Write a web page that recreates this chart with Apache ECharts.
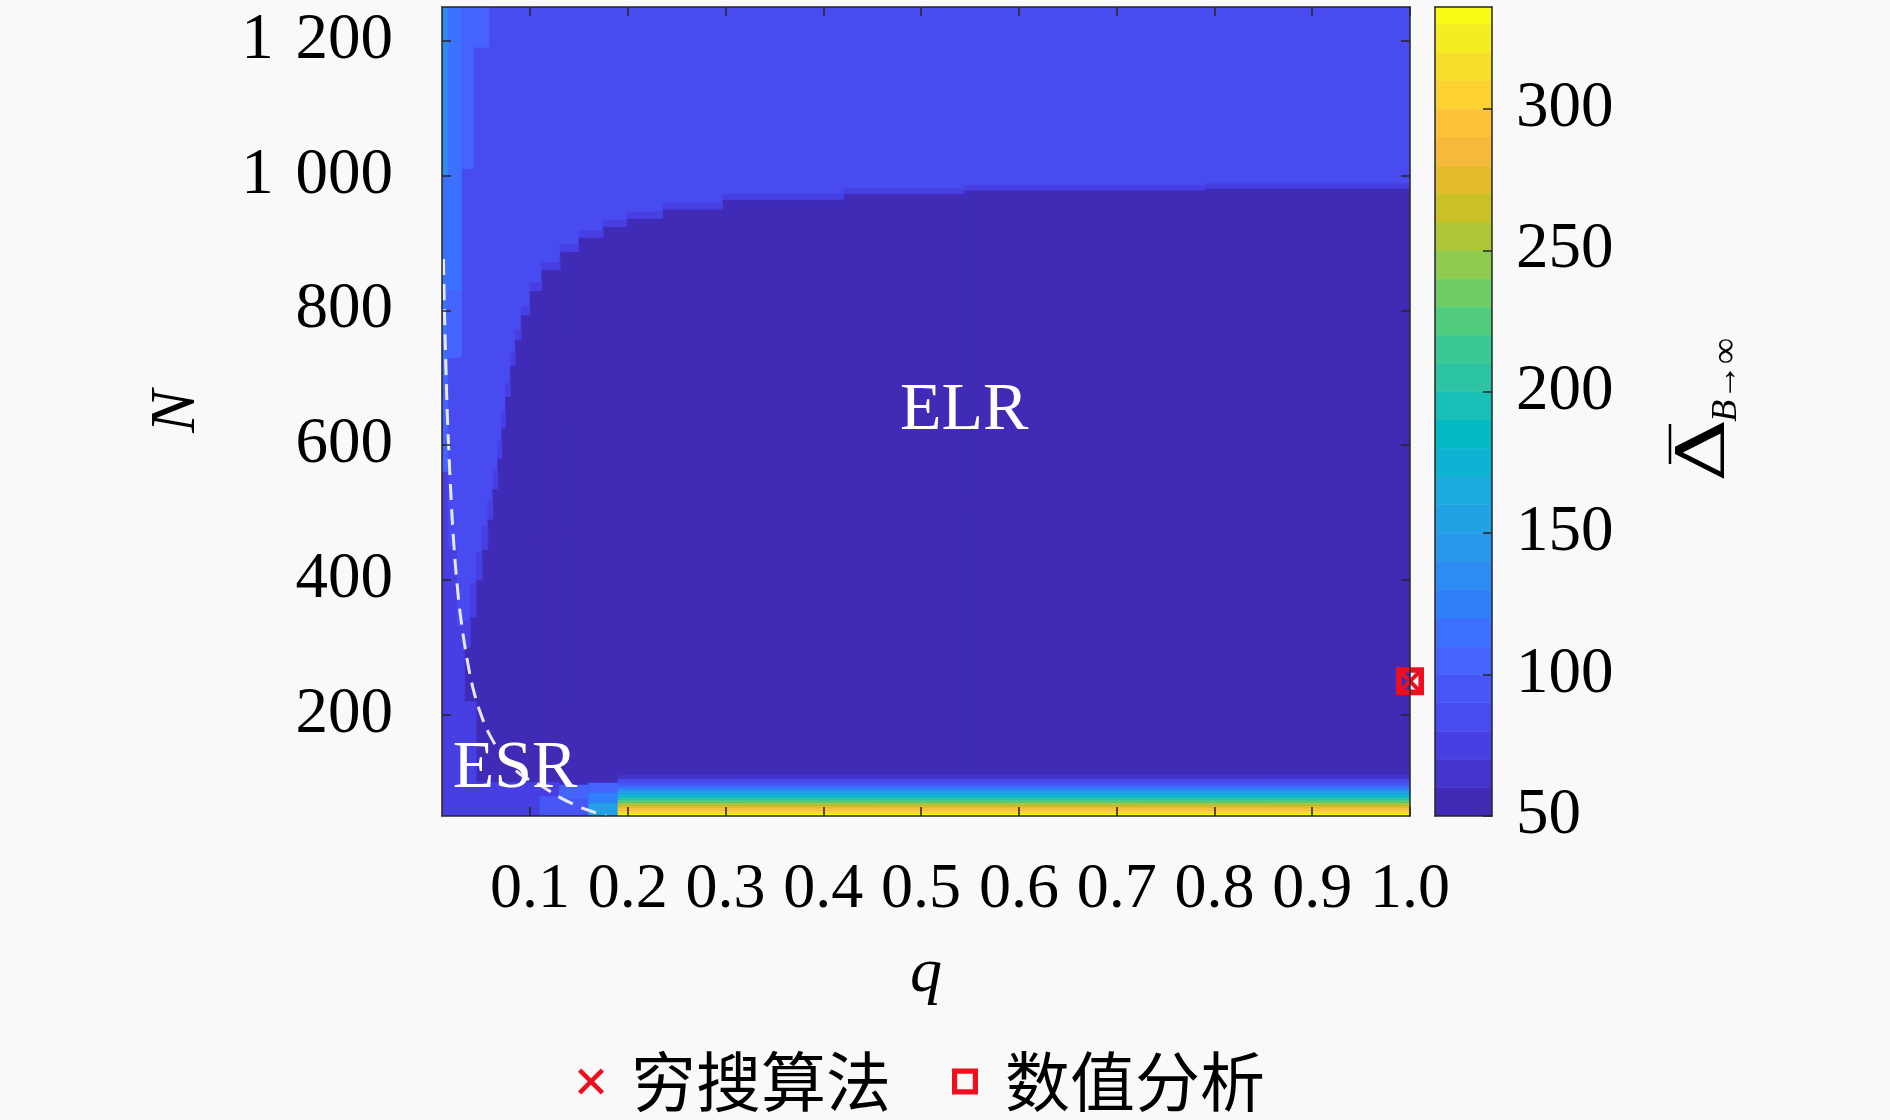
<!DOCTYPE html>
<html><head><meta charset="utf-8">
<script src="https://cdn.jsdelivr.net/npm/echarts@6/dist/echarts.min.js"></script>
<style>html,body{margin:0;padding:0;background:#f9f9f9}#c{width:1890px;height:1120px}</style>
</head><body><div id="c"></div>
<script>
// ---------------- data ----------------
const qTicks = [0.1, 0.2, 0.3, 0.4, 0.5, 0.6, 0.7, 0.8, 0.9, 1.0];
const nTicks = [200, 400, 600, 800, 1000, 1200];
const nTickLabels = ['200', '400', '600', '800', '1\u2004000', '1\u2004200'];
const cbTicks = [50, 100, 150, 200, 250, 300];
const cbLevels = [50, 60, 70, 80, 90, 100, 110, 120, 130, 140, 150, 160, 170, 180, 190,
                  200, 210, 220, 230, 240, 250, 260, 270, 280, 290, 300, 310, 320, 330];
const Q_MIN = 0.01, Q_MAX = 1.0, N_MIN = 50, N_MAX = 1250, CB_MIN = 50, CB_MAX = 336;

// cells: [q from, q to, N from, N to, value]
const upperRegion = [[0.010, 1.000, 50, 1250, 85]];
// ELR (dark) region: one column per q range, from N = 50 up to its top edge
const elrCells = [
  [0.025, 0.033, 50, 150, 55],
  [0.033, 0.039, 50, 300, 55],
  [0.039, 0.045, 50, 345, 55],
  [0.045, 0.051, 50, 400, 55],
  [0.051, 0.057, 50, 445, 55],
  [0.057, 0.062, 50, 490, 55],
  [0.062, 0.067, 50, 535, 55],
  [0.067, 0.071, 50, 580, 55],
  [0.071, 0.075, 50, 625, 55],
  [0.075, 0.080, 50, 672, 55],
  [0.080, 0.085, 50, 718, 55],
  [0.085, 0.091, 50, 756, 55],
  [0.091, 0.100, 50, 793, 55],
  [0.100, 0.112, 50, 829, 55],
  [0.112, 0.131, 50, 860, 55],
  [0.131, 0.150, 50, 887, 55],
  [0.150, 0.175, 50, 908, 55],
  [0.175, 0.199, 50, 924, 55],
  [0.199, 0.236, 50, 936, 55],
  [0.236, 0.297, 50, 950, 55],
  [0.297, 0.421, 50, 964, 55],
  [0.421, 0.544, 50, 973, 55],
  [0.544, 0.790, 50, 978, 55],
  [0.790, 1.000, 50, 981, 55]
];
// thin purple contour band along the ELR top edge
const elrEdgeCells = [
  [0.025, 0.033, 150, 330, 72],
  [0.033, 0.039, 300, 340, 72],
  [0.039, 0.045, 345, 395, 72],
  [0.045, 0.051, 400, 440, 72],
  [0.051, 0.057, 445, 480, 72],
  [0.057, 0.062, 490, 520, 72],
  [0.062, 0.067, 535, 565, 72],
  [0.067, 0.071, 580, 605, 72],
  [0.071, 0.075, 625, 650, 72],
  [0.075, 0.080, 672, 692, 72],
  [0.080, 0.085, 718, 736, 72],
  [0.085, 0.091, 756, 771, 72],
  [0.091, 0.100, 793, 806, 72],
  [0.100, 0.112, 829, 841, 72],
  [0.112, 0.131, 860, 871, 72],
  [0.131, 0.150, 887, 897, 72],
  [0.150, 0.175, 908, 918, 72],
  [0.175, 0.199, 924, 934, 72],
  [0.199, 0.236, 936, 946, 72],
  [0.236, 0.297, 950, 959, 72],
  [0.297, 0.421, 964, 972, 72],
  [0.421, 0.544, 973, 980, 72],
  [0.544, 0.790, 978, 985, 72],
  [0.790, 1.000, 981, 988, 72]
];
const leftStripCells = [
  [0.010, 0.030, 830, 1250, 118],
  [0.010, 0.016, 1000, 1250, 135],
  [0.010, 0.016, 700, 830, 110],
  [0.010, 0.016, 560, 700, 100],
  [0.010, 0.016, 50, 560, 78],
  [0.016, 0.030, 730, 830, 100],
  [0.016, 0.025, 110, 450, 72],
  [0.030, 0.042, 1010, 1250, 105],
  [0.042, 0.058, 1190, 1250, 105]
];
const esrCells = [
  [0.016, 0.045, 80, 220, 72],
  [0.016, 0.110, 50, 80, 75],
  [0.110, 0.160, 50, 80, 92],
  [0.045, 0.130, 80, 100, 75],
  [0.130, 0.160, 76, 96, 100],
  [0.160, 0.190, 84, 99, 100],
  [0.160, 0.190, 69, 84, 128],
  [0.160, 0.190, 50, 69, 150]
];
const bottomStripQ = [0.19, 1.0];
const bottomStripRows = [ // [N from, N to, value]
  [50, 54, 335], [54, 58, 315], [58, 62, 295], [62, 66, 275], [66, 70, 250],
  [70, 74, 225], [74, 78, 200], [78, 83, 175], [83, 87, 152], [87, 91, 132],
  [91, 95, 115], [95, 100, 98], [100, 105, 84], [105, 110, 66]
];
// white dashed ESR/ELR boundary
const boundaryQ = [0.0115, 0.0125, 0.014, 0.016, 0.019, 0.022, 0.026, 0.030, 0.036, 0.042,
                   0.050, 0.060, 0.075, 0.090, 0.110, 0.130, 0.150, 0.165, 0.178];
const boundaryN = [876, 800, 715, 625, 530, 455, 385, 335, 280, 238,
                   200, 167, 134, 112, 96, 78, 64, 56, 50];
// optimum markers
const exhaustiveQ = [1.0], exhaustiveN = [250];
const numericQ = [1.0], numericN = [250];
// region labels
const regionNames = ['ELR', 'ESR'];
const regionQ = [0.544, 0.0847];
const regionN = [651, 119];

// ---------------- styling helpers ----------------
const parulaMap = [
[0.2422,0.1504,0.6603],[0.2504,0.1650,0.7076],[0.2578,0.1818,0.7511],[0.2647,0.1978,0.7952],[0.2706,0.2147,0.8364],[0.2751,0.2342,0.8710],[0.2783,0.2559,0.8991],[0.2803,0.2782,0.9221],[0.2813,0.3006,0.9414],[0.2810,0.3228,0.9579],[0.2795,0.3447,0.9717],[0.2760,0.3667,0.9829],[0.2699,0.3892,0.9906],[0.2602,0.4123,0.9952],[0.2440,0.4358,0.9988],[0.2206,0.4603,0.9973],[0.1963,0.4847,0.9892],[0.1834,0.5074,0.9798],[0.1786,0.5289,0.9682],[0.1764,0.5499,0.9520],[0.1687,0.5703,0.9359],[0.1540,0.5902,0.9218],[0.1460,0.6091,0.9079],[0.1380,0.6276,0.8973],[0.1248,0.6459,0.8883],[0.1113,0.6635,0.8763],[0.0952,0.6798,0.8598],[0.0689,0.6948,0.8394],[0.0297,0.7082,0.8163],[0.0036,0.7203,0.7917],[0.0067,0.7312,0.7660],[0.0433,0.7411,0.7394],[0.0964,0.7500,0.7120],[0.1408,0.7584,0.6842],[0.1717,0.7670,0.6554],[0.1938,0.7758,0.6251],[0.2161,0.7843,0.5923],[0.2470,0.7918,0.5567],[0.2906,0.7973,0.5188],[0.3406,0.8008,0.4789],[0.3909,0.8029,0.4354],[0.4456,0.8024,0.3909],[0.5044,0.7993,0.3480],[0.5616,0.7942,0.3045],[0.6174,0.7876,0.2612],[0.6720,0.7793,0.2227],[0.7242,0.7698,0.1910],[0.7738,0.7598,0.1646],[0.8203,0.7498,0.1535],[0.8634,0.7406,0.1596],[0.9035,0.7330,0.1774],[0.9393,0.7288,0.2100],[0.9728,0.7298,0.2394],[0.9956,0.7434,0.2371],[0.9970,0.7659,0.2199],[0.9952,0.7893,0.2028],[0.9892,0.8136,0.1885],[0.9786,0.8386,0.1766],[0.9676,0.8639,0.1643],[0.9610,0.8890,0.1537],[0.9597,0.9135,0.1423],[0.9628,0.9373,0.1265],[0.9691,0.9606,0.1064],[0.9769,0.9839,0.0805]];
function parula(f) {
  f = Math.max(0, Math.min(1, f));
  const x = f * (parulaMap.length - 1);
  const i = Math.min(Math.floor(x), parulaMap.length - 2);
  const t = x - i;
  const c = parulaMap[i].map((v, k) => Math.round(255 * (v + (parulaMap[i + 1][k] - v) * t)));
  return 'rgb(' + c.join(',') + ')';
}
// each contour band is coloured at its mid level
const pieces = cbLevels.map(lo => ({ gte: lo, lt: lo + 10, color: parula((lo + 5 - CB_MIN) / (CB_MAX - CB_MIN)) }));

const fieldCells = [].concat(
  upperRegion, elrCells, elrEdgeCells, leftStripCells, esrCells,
  bottomStripRows.map(r => [bottomStripQ[0], bottomStripQ[1], r[0], r[1], r[2]])
);
const cbCells = cbLevels.map(lo => [0, 1, lo, Math.min(lo + 10, CB_MAX), lo]);

function renderCells(params, api) {
  const a = api.coord([api.value(0), api.value(3)]);
  const b = api.coord([api.value(1), api.value(2)]);
  const color = api.visual('color');
  return {
    type: 'rect',
    shape: { x: a[0], y: a[1], width: b[0] - a[0], height: b[1] - a[1] },
    style: { fill: color, stroke: color, lineWidth: 0.6 }
  };
}

const SERIF = '"Liberation Serif", "Times New Roman", serif';
const AX = '#262626';
const lineS = { color: AX, width: 1.5 };
const X_PATH = 'path://M0,2.5L2.5,0L10,7.5L17.5,0L20,2.5L12.5,10L20,17.5L17.5,20L10,12.5L2.5,20L0,17.5L7.5,10Z';
const SQ_PATH = 'path://M0,0L20,0L20,20L0,20ZM4,4L4,16L16,16L16,4Z';
const RED = '#ee0f1c';

function frameAxis(grid, pos, min, max, ticks) {
  return {
    gridIndex: grid, type: 'value', position: pos, min: min, max: max, z: 10,
    axisLine: { show: true, onZero: false, lineStyle: lineS },
    axisTick: ticks ? { show: true, inside: true, length: 9, customValues: ticks, lineStyle: lineS } : { show: false },
    axisLabel: { show: false }, splitLine: { show: false }
  };
}

const chart = echarts.init(document.getElementById('c'));
chart.setOption({
  backgroundColor: '#f9f9f9',
  animation: false,
  grid: [
    { left: 442, top: 7, width: 968, height: 809 },
    { left: 1435, top: 7, width: 57, height: 809 }
  ],
  xAxis: [
    {
      gridIndex: 0, type: 'value', position: 'bottom', min: Q_MIN, max: Q_MAX, z: 10,
      axisLine: { show: true, onZero: false, lineStyle: lineS },
      axisTick: { show: true, inside: true, length: 9, customValues: qTicks, lineStyle: lineS },
      axisLabel: { show: true, customValues: qTicks, formatter: v => Number(v).toFixed(1), margin: 42,
                   fontSize: 64, fontFamily: SERIF, color: '#000' },
      splitLine: { show: false },
      name: 'q', nameLocation: 'middle', nameGap: 126,
      nameTextStyle: { fontSize: 64, fontFamily: SERIF, fontStyle: 'italic', color: '#000' }
    },
    frameAxis(0, 'top', Q_MIN, Q_MAX, qTicks),
    frameAxis(1, 'bottom', 0, 1, null),
    frameAxis(1, 'top', 0, 1, null)
  ],
  yAxis: [
    {
      gridIndex: 0, type: 'value', position: 'left', min: N_MIN, max: N_MAX, z: 10,
      axisLine: { show: true, onZero: false, lineStyle: lineS },
      axisTick: { show: true, inside: true, length: 9, customValues: nTicks, lineStyle: lineS },
      axisLabel: { show: true, customValues: nTicks, formatter: v => nTickLabels[nTicks.indexOf(v)] || '',
                   margin: 49, fontSize: 65, fontFamily: SERIF, color: '#000', padding: [10, 0, 0, 0] },
      splitLine: { show: false },
      name: 'N', nameLocation: 'middle', nameGap: 233, nameRotate: 90,
      nameTextStyle: { fontSize: 64, fontFamily: SERIF, fontStyle: 'italic', color: '#000' }
    },
    frameAxis(0, 'right', N_MIN, N_MAX, nTicks),
    {
      gridIndex: 1, type: 'value', position: 'right', min: CB_MIN, max: CB_MAX, interval: 50, z: 10,
      axisLine: { show: true, onZero: false, lineStyle: lineS },
      axisTick: { show: true, inside: true, length: 9, lineStyle: lineS },
      axisLabel: { show: true, margin: 24, fontSize: 65, fontFamily: SERIF, color: '#000', showMaxLabel: false,
                   padding: [10, 0, 0, 0], formatter: v => cbTicks.indexOf(v) >= 0 ? String(v) : '' },
      splitLine: { show: false }
    },
    frameAxis(1, 'left', CB_MIN, CB_MAX, null)
  ],
  visualMap: [{ type: 'piecewise', show: false, dimension: 4, seriesIndex: [0, 1], pieces: pieces }],
  legend: {
    data: ['穷搜算法', '数值分析'], left: 578, top: 1049, padding: 0,
    itemWidth: 26, itemHeight: 26, itemGap: 61, selectedMode: false,
    textStyle: { fontSize: 65, fontFamily: '"Noto Sans CJK SC", sans-serif', color: '#000', padding: [0, 0, 0, 22] }
  },
  series: [
    { type: 'custom', name: 'field', xAxisIndex: 0, yAxisIndex: 0, renderItem: renderCells, clip: true,
      silent: true, encode: { x: [0, 1], y: [2, 3] }, data: fieldCells, z: 1 },
    { type: 'custom', name: 'colorbar', xAxisIndex: 2, yAxisIndex: 2, renderItem: renderCells, clip: true,
      silent: true, encode: { x: [0, 1], y: [2, 3] }, data: cbCells, z: 1 },
    { type: 'line', name: 'boundary', xAxisIndex: 0, yAxisIndex: 0, smooth: 0.4, showSymbol: false, silent: true,
      data: boundaryQ.map((q, i) => [q, boundaryN[i]]), clip: true, z: 3,
      lineStyle: { color: '#e6e6ff', width: 3, type: [16, 9] } },
    { type: 'scatter', name: '穷搜算法', xAxisIndex: 0, yAxisIndex: 0, symbol: X_PATH, symbolSize: 22,
      symbolKeepAspect: true, clip: false, z: 6, itemStyle: { color: RED, opacity: 1 },
      data: exhaustiveQ.map((q, i) => [q, exhaustiveN[i]]) },
    { type: 'scatter', name: '数值分析', xAxisIndex: 0, yAxisIndex: 0, symbol: SQ_PATH, symbolSize: 28,
      symbolKeepAspect: true, clip: false, z: 6, itemStyle: { color: RED, opacity: 1 },
      data: numericQ.map((q, i) => [q, numericN[i]]) },
    { type: 'scatter', name: 'regions', xAxisIndex: 0, yAxisIndex: 0, symbolSize: 1, silent: true, z: 5,
      itemStyle: { color: 'rgba(0,0,0,0)', opacity: 1 },
      label: { show: true, position: 'inside', formatter: '{b}', fontSize: 68, fontFamily: SERIF,
               color: '#ffffff', opacity: 1, textBorderWidth: 0 },
      data: regionNames.map((n, i) => ({ name: n, value: [regionQ[i], regionN[i]] })) }
  ],
  graphic: [
    { type: 'text', x: 1706, y: 450, rotation: Math.PI / 2, scaleX: 1.3,
      style: { text: 'Δ', fontSize: 68, fontFamily: '"DejaVu Serif", serif', fill: '#000', align: 'center', verticalAlign: 'middle' } },
    { type: 'line', shape: { x1: 1670, y1: 424, x2: 1670, y2: 464 }, style: { stroke: '#000', lineWidth: 2.5 } },
    { type: 'text', x: 1727, y: 380, rotation: Math.PI / 2,
      style: { text: 'B→∞', fontSize: 36, fontFamily: SERIF, fontStyle: 'italic', fill: '#000', align: 'center', verticalAlign: 'middle' } }
  ]
});
</script></body></html>
